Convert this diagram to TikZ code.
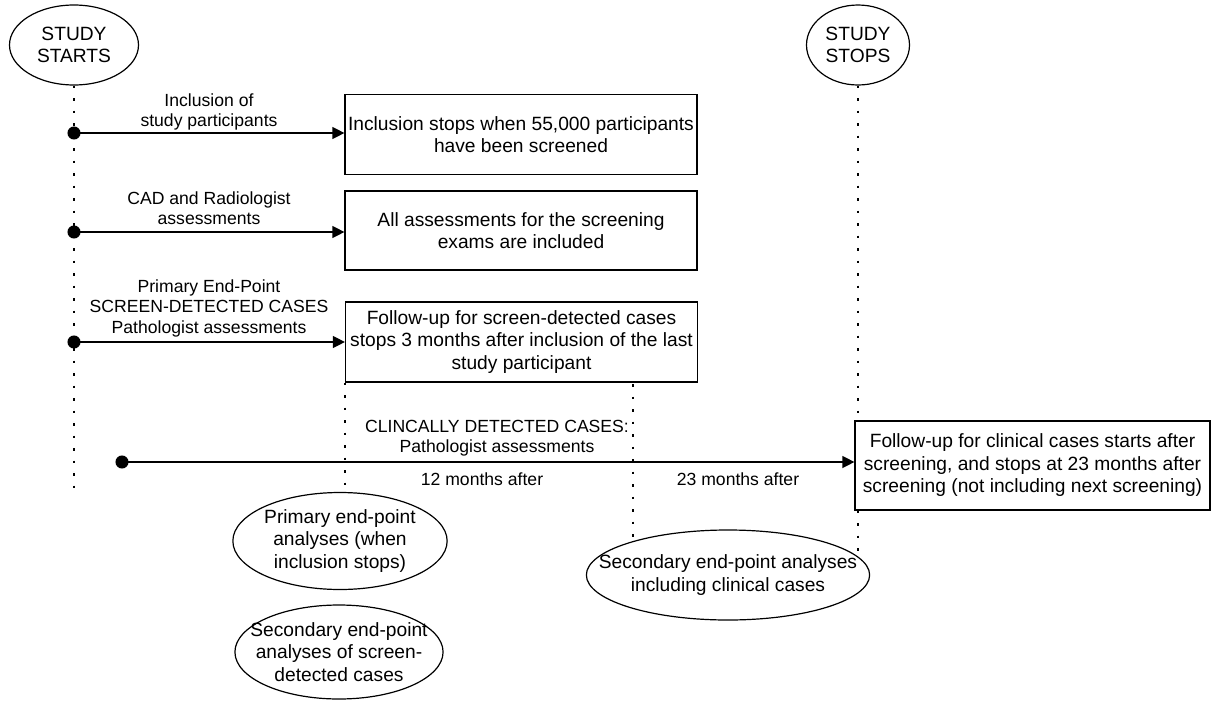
\documentclass[tikz,border=0pt]{standalone}
\usepackage{fontspec}
\setmainfont{Liberation Sans}
\usetikzlibrary{shapes.geometric,arrows.meta,backgrounds}

\begin{document}
\begin{tikzpicture}[x=1pt, y=-1pt]
	\tikzset{oval/.style={ellipse, draw=black, fill=white, line width=1.2pt, inner sep=0pt, align=center, font=\fontsize{19.2}{22.5}\selectfont},
		rect/.style={rectangle, draw=black, fill=white, line width=1.2pt, inner sep=1pt, minimum width=352pt, align=center, font=\fontsize{19.2}{22.5}\selectfont},
		note/.style={align=center, font=\fontsize{17.6}{20.5}\selectfont},
		link/.style={line width=1.3pt, {Circle[length=13pt]}-{Triangle[length=12pt, width=12pt]}},
		guide/.style={line width=2.8pt, dash pattern=on 2.8pt off 9.7pt}};

	\useasboundingbox (0,0) rectangle (1211,702);

	% time points
	\node[oval, minimum width=129pt, minimum height=80pt] (start) at (74,45) {STUDY\\STARTS};
	\node[oval, minimum width=103pt, minimum height=80pt] (stop) at (858,45) {STUDY\\STOPS};

	% what happens during the study
	\node[rect, minimum height=80pt] (box1) at (521,134.5) {Inclusion stops when 55,000 participants\\have been screened};
	\node[rect, minimum height=79pt] (box2) at (521,230.5) {All assessments for the screening\\exams are included};
	\node[rect, minimum height=80pt] (box3) at (521.5,342) {Follow-up for screen-detected cases\\stops 3 months after inclusion of the last\\study participant};
	\node[rect, minimum width=355pt, minimum height=89pt] (box4) at (1032.5,465.5) {Follow-up for clinical cases starts after\\screening, and stops at 23 months after\\screening (not including next screening)};

	% analyses
	\node[oval, minimum width=210pt, minimum height=97pt] (prim) at (340,541) {Primary end-point\\analyses (when\\inclusion stops)};
	\node[oval, minimum width=207pt, minimum height=94pt, inner xsep=-15pt] (secscreen) at (339,652) {Secondary end-point\\analyses of screen-\\detected cases};
	\node[oval, minimum width=282pt, minimum height=90pt, inner xsep=-29pt] (secclin) at (728,575) {Secondary end-point analyses\\including clinical cases};

	% labels
	\node[note] (lab1) at (209,112) {Inclusion of\\study participants};
	\node[note] (lab2) at (209,208) {CAD and Radiologist\\assessments};
	\node[note] (lab3) at (209,308) {Primary End-Point\\SCREEN-DETECTED CASES\\Pathologist assessments};
	\node[note] (lab4) at (497,438) {CLINCALLY DETECTED CASES:\\Pathologist assessments};
	\node[note] (m12) at (482,479) {12 months after};
	\node[note] (m23) at (738,479) {23 months after};

	\coordinate (startend) at (74,490);
	\coordinate (split) at (633,384);
	\coordinate (in1) at (67.5,133);
	\coordinate (in2) at (67.5,232);
	\coordinate (in3) at (67.5,342);
	\coordinate (in4) at (115.5,462);

	\begin{scope}[on background layer]
		\draw[guide] (start) -- (startend);
		\draw[guide] (stop) -- (stop |- secclin);
		\draw[guide] (box3.south west) -- (box3.south west |- prim);
		\draw[guide] (split) -- (split |- secclin);
	\end{scope}

	\draw[link] (in1) -- (in1 -| box1.west);
	\draw[link] (in2) -- (in2 -| box2.west);
	\draw[link] (in3) -- (in3 -| box3.west);
	\draw[link] (in4) -- (in4 -| box4.west);

\end{tikzpicture}
\end{document}
